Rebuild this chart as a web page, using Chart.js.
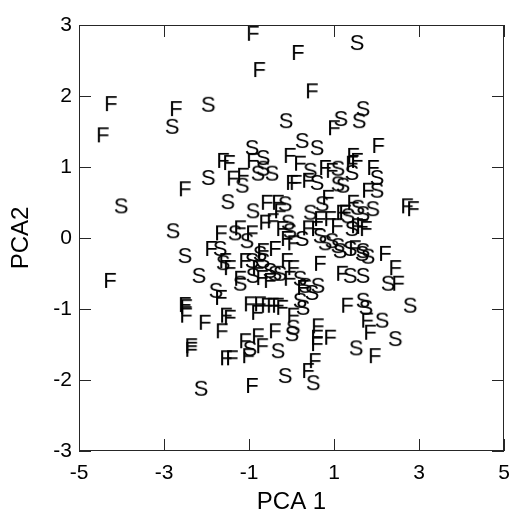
<!DOCTYPE html>
<html>
<head>
<meta charset="utf-8">
<script src="https://cdn.jsdelivr.net/npm/chart.js@4.4.0/dist/chart.umd.min.js"></script>
<style>
  html, body { margin: 0; padding: 0; background: #fff; }
  #wrap { width: 510px; height: 514px; }
</style>
</head>
<body>
<div id="wrap"><canvas id="pca-chart" width="510" height="514"></canvas></div>
<script>
// Axis ranges and tick labels
const xTicks = [-5, -3, -1, 1, 3, 5];
const yTicks = [-3, -2, -1, 0, 1, 2, 3];

// Group "F" scores (PCA 1, PCA2)
const fX = [-0.91, 0.15, -0.76, 0.48, -4.25, -2.72, -4.44, 1.0, 2.04, -1.61,
  -1.47, -0.04, 1.45, 1.54, 1.92, 1.8, 2.72, 2.86, 1.66, 1.75,
  2.2, 2.44, 2.51, 1.78, 1.85, 1.96, -2.51, -1.66, -1.89, -4.27,
  -1.66, -2.51, -2.48, -2.48, -2.04, -1.64, -1.54, -2.36, -2.36, -1.54,
  -0.98, -0.58, -0.44, -0.22, -1.45, -0.81, 0.04, 0.62, -0.39, -0.79,
  -1.09, -0.69, 0.6, 0.91, 0.6, -1.40, -1.02, 0.55, 0.39, -0.93,
  1.31, -0.91, 0.2, 0.79, 1.42, -1.38, -1.14, 0.01, 0.1, 0.39,
  0.95, -0.58, -0.32, -0.27, 0.86, 1.45, 0.67, 0.91, 1.19, 1.26,
  -1.21, -0.93, -0.62, -0.44, -0.22, 0.39, 0.6, 1.07, 1.54, -0.11,
  0.04, 1.49, -0.67, -0.39, -1.56, -1.45, -1.09, -0.79, -0.11, 0.04,
  0.67, -1.21, -0.69, -0.51, -0.04, 0.27, 1.19, -0.74, -0.32];
const fY = [2.89, 2.62, 2.38, 2.08, 1.90, 1.83, 1.46, 1.56, 1.31, 1.10,
  1.07, 1.17, 1.17, 1.10, 1.0, 0.68, 0.46, 0.42, 0.17, 0.14,
  -0.21, -0.41, -0.63, -1.15, -1.32, -1.65, 0.70, 0.08, -0.14, -0.59,
  -0.83, -0.93, -0.96, -1.08, -1.18, -1.30, -1.08, -1.51, -1.56, -1.68,
  -0.92, -0.94, -0.94, -0.97, -1.11, -1.04, -1.08, -1.23, -1.30, -1.37,
  -1.44, -1.51, -1.39, -1.39, -1.48, -1.68, -1.65, -1.72, -1.86, -2.07,
  -0.94, 1.10, 1.06, 1.0, 1.06, 0.85, 0.89, 0.79, 0.79, 0.82,
  0.96, 0.51, 0.51, 0.39, 0.58, 0.51, 0.28, 0.28, 0.37, 0.37,
  0.15, 0.08, 0.23, 0.25, 0.14, 0.15, 0.14, 0.18, 0.18, 0.0,
  -0.06, -0.13, -0.17, -0.14, -0.31, -0.41, -0.31, -0.41, -0.31, -0.41,
  -0.35, -0.56, -0.55, -0.59, -0.56, -0.69, -0.49, -0.92, -0.94];

// Group "S" scores (PCA 1, PCA2)
const sX = [1.54, -1.96, -2.81, -0.13, 1.16, 1.59, 1.68, -0.93, 0.25, 0.6,
  -0.67, 2.01, 2.01, 1.91, 1.56, 1.66, 1.8, 2.27, 2.79, 1.68,
  1.75, 2.13, 2.44, 1.52, -1.96, -4.01, -1.5, -2.79, -1.68, -2.51,
  -1.61, -2.18, -1.78, -2.13, 0.04, 0.01, -0.98, -0.32, -0.15, 0.51,
  -0.67, 0.44, 1.09, -0.79, -0.46, -1.16, 0.6, 1.09, 1.21, 1.42,
  -0.15, -0.91, 0.72, 0.44, 1.33, 1.68, -1.33, -0.08, -0.04, 0.67,
  1.42, -1.05, 0.25, 0.95, 1.09, 1.14, 1.38, 1.68, -0.74, 0.79,
  -0.93, -0.67, -0.51, -0.39, -1.21, -0.91, -0.27, 0.2, 0.32, 0.62,
  0.48, 1.38, 1.68, 0.2, 0.27];
const sY = [2.76, 1.89, 1.58, 1.66, 1.69, 1.66, 1.83, 1.28, 1.38, 1.28,
  1.14, 0.86, 0.68, 0.42, 0.44, -0.21, -0.25, -0.63, -0.94, -0.87,
  -0.97, -1.15, -1.41, -1.54, 0.86, 0.46, 0.52, 0.11, -0.14, -0.24,
  -0.34, -0.52, -0.73, -2.11, -1.25, -1.34, -1.55, -1.58, -1.93, -2.03,
  0.99, 0.96, 0.99, 0.92, 0.92, 0.75, 0.79, 0.77, 0.75, 0.93,
  0.49, 0.39, 0.49, 0.37, 0.32, 0.35, 0.08, 0.23, 0.11, 0.04,
  0.14, -0.03, 0.0, -0.03, -0.10, -0.17, -0.14, -0.17, -0.21, -0.06,
  -0.31, -0.31, -0.45, -0.49, -0.63, -0.52, -0.49, -0.56, -0.66, -0.66,
  -0.76, -0.52, -0.52, -0.87, -0.97];

const FONT = '"Liberation Sans", Arial, sans-serif';

// little canvas with a letter, used as the point style
function letterMark(ch) {
  const c = document.createElement('canvas');
  c.width = 20;
  c.height = 24;
  const g = c.getContext('2d');
  g.font = '22px ' + FONT;
  g.fillStyle = '#000';
  g.textAlign = 'center';
  g.textBaseline = 'alphabetic';
  g.fillText(ch, 10, 20);
  return c;
}

function toPoints(xs, ys) {
  return xs.map((v, i) => ({ x: v, y: ys[i] }));
}

// box around the plot with inward tick marks on all four sides
const frameTicks = {
  id: 'frameTicks',
  afterDraw(chart) {
    const { ctx, chartArea: a, scales: { x, y } } = chart;
    const len = 12;
    ctx.save();
    ctx.strokeStyle = '#262626';
    ctx.lineWidth = 1;
    ctx.strokeRect(a.left + 0.5, a.top + 0.5, a.right - a.left - 1, a.bottom - a.top - 1);
    ctx.beginPath();
    x.ticks.forEach(t => {
      const px = Math.round(x.getPixelForValue(t.value)) + 0.5;
      ctx.moveTo(px, a.bottom); ctx.lineTo(px, a.bottom - len);
      ctx.moveTo(px, a.top); ctx.lineTo(px, a.top + len);
    });
    y.ticks.forEach(t => {
      const py = Math.round(y.getPixelForValue(t.value)) + 0.5;
      ctx.moveTo(a.left, py); ctx.lineTo(a.left + len, py);
      ctx.moveTo(a.right, py); ctx.lineTo(a.right - len, py);
    });
    ctx.stroke();
    ctx.restore();
  }
};

function displayPcaChart() {
  const ctx = document.getElementById('pca-chart').getContext('2d');
  new Chart(ctx, {
    type: 'scatter',
    data: {
      datasets: [
        { label: 'F', data: toPoints(fX, fY), pointStyle: letterMark('F'), radius: 3 },
        { label: 'S', data: toPoints(sX, sY), pointStyle: letterMark('S'), radius: 3 }
      ]
    },
    options: {
      responsive: false,
      animation: false,
      layout: { padding: { top: 25, right: 6, left: 0, bottom: 0 } },
      plugins: { legend: { display: false }, tooltip: { enabled: false } },
      scales: {
        x: {
          min: -5, max: 5,
          afterFit: s => { s.height = 63; s.paddingLeft = 0; s.paddingRight = 0; },
          afterBuildTicks: s => { s.ticks = xTicks.map(v => ({ value: v })); },
          grid: { display: false, drawTicks: false },
          border: { display: false },
          ticks: { color: '#000', padding: 10, font: { family: FONT, size: 21 } },
          title: { display: true, text: 'PCA 1', color: '#000', padding: { top: 0, bottom: -3 }, font: { family: FONT, size: 24 } }
        },
        y: {
          min: -3, max: 3,
          afterFit: s => { s.width = 79; s.paddingTop = 0; s.paddingBottom = 0; },
          afterBuildTicks: s => { s.ticks = yTicks.map(v => ({ value: v })); },
          grid: { display: false, drawTicks: false },
          border: { display: false },
          ticks: { color: '#000', padding: 7, font: { family: FONT, size: 21 } },
          title: { display: true, text: 'PCA2', color: '#000', padding: { top: 7, bottom: 0 }, font: { family: FONT, size: 24 } }
        }
      }
    },
    plugins: [frameTicks]
  });
}

window.addEventListener('load', displayPcaChart);
</script>
</body>
</html>
